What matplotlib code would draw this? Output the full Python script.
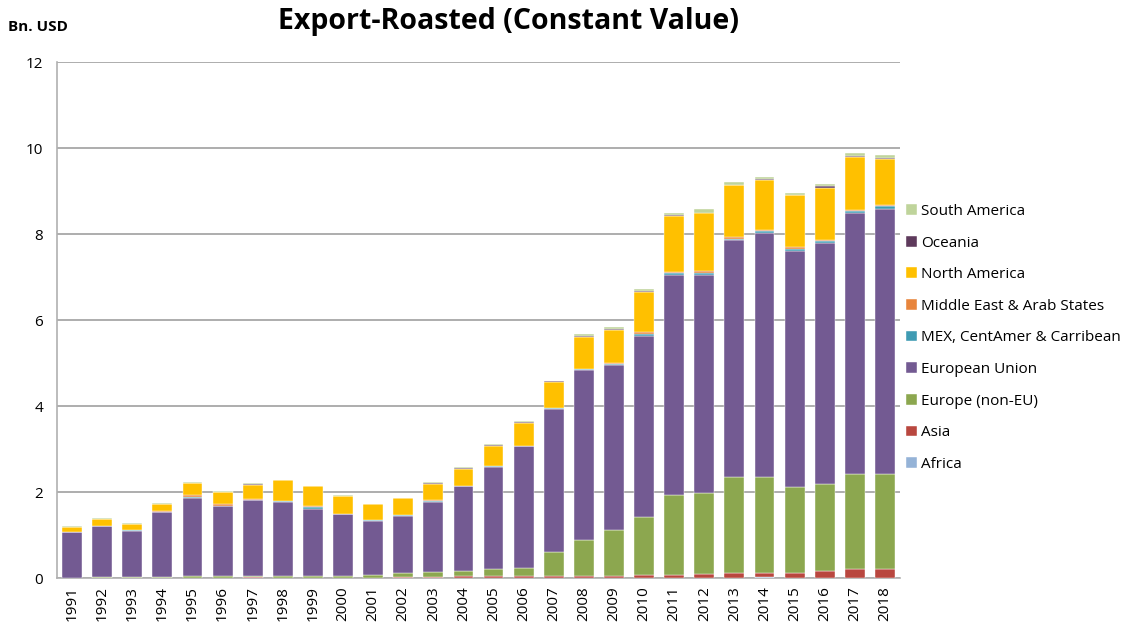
import matplotlib
matplotlib.use("Agg")
import matplotlib.pyplot as plt
import numpy as np

plt.rcParams['font.family'] = ['Open Sans', 'DejaVu Sans']

years = [str(y) for y in range(1991, 2019)]

africa = [0.00,0.00,0.00,0.00,0.00,0.00,0.00,0.00,0.00,0.00,0.00,0.00,0.00,0.00,
          0.00,0.00,0.00,0.00,0.00,0.00,0.00,0.00,0.00,0.03,0.00,0.00,0.00,0.00]
asia = [0.00,0.00,0.00,0.00,0.00,0.00,0.03,0.00,0.00,0.00,0.00,0.02,0.03,0.04,
        0.05,0.05,0.05,0.05,0.05,0.07,0.07,0.09,0.11,0.08,0.11,0.16,0.20,0.20]
europe_non_eu = [0.01,0.03,0.03,0.03,0.05,0.05,0.01,0.05,0.05,0.05,0.08,0.09,0.10,0.12,
                 0.15,0.19,0.55,0.83,1.07,1.36,1.87,1.89,2.24,2.24,2.01,2.03,2.21,2.23]
eu = [1.05,1.17,1.07,1.51,1.82,1.63,1.78,1.71,1.56,1.43,1.24,1.34,1.64,1.97,
      2.38,2.82,3.34,3.95,3.84,4.19,5.11,5.06,5.50,5.68,5.48,5.60,6.07,6.15]
mex_cam = [0.02,0.02,0.02,0.00,0.01,0.00,0.00,0.03,0.05,0.02,0.02,0.02,0.02,0.00,
           0.02,0.02,0.02,0.03,0.02,0.06,0.05,0.05,0.04,0.04,0.06,0.05,0.05,0.06]
mideast = [0.00,0.00,0.00,0.01,0.04,0.04,0.02,0.00,0.01,0.00,0.00,0.00,0.02,0.02,
           0.01,0.00,0.00,0.01,0.01,0.04,0.02,0.04,0.03,0.03,0.04,0.03,0.03,0.04]
north_america = [0.11,0.15,0.13,0.18,0.28,0.27,0.33,0.48,0.46,0.41,0.38,0.38,0.37,0.39,
                 0.47,0.53,0.60,0.74,0.78,0.94,1.30,1.37,1.23,1.15,1.20,1.21,1.22,1.06]
oceania = [0.00,0.00,0.01,0.00,0.01,0.01,0.02,0.00,0.00,0.00,0.00,0.00,0.03,0.02,
           0.02,0.02,0.02,0.01,0.02,0.02,0.02,0.00,0.00,0.03,0.00,0.03,0.04,0.03]
south_america = [0.01,0.02,0.01,0.01,0.02,0.02,0.01,0.01,0.01,0.01,0.01,0.02,0.02,0.01,
                 0.01,0.02,0.01,0.05,0.05,0.04,0.05,0.08,0.07,0.05,0.06,0.06,0.06,0.06]

series = [
    ("Africa", africa, "#95B3D7"),
    ("Asia", asia, "#B9473F"),
    ("Europe (non-EU)", europe_non_eu, "#8CA74F"),
    ("European Union", eu, "#735A92"),
    ("MEX, CentAmer & Carribean", mex_cam, "#3F9BB3"),
    ("Middle East & Arab States", mideast, "#E8853C"),
    ("North America", north_america, "#FFC000"),
    ("Oceania", oceania, "#5E3A5C"),
    ("South America", south_america, "#BFD49B"),
]

fig = plt.figure(figsize=(11.46, 6.25), dpi=100)
ax = fig.add_axes([57/1146, 1-578/625, (900-57)/1146, (578-62)/625])

x = np.arange(len(years))
bottom = np.zeros(len(years))
handles = []
for name, vals, col in series:
    v = np.array(vals)
    h = ax.bar(x, v, bottom=bottom, width=0.66, color=col, edgecolor='white',
               linewidth=0.3, label=name, zorder=3)
    handles.append(h)
    bottom += v

ax.set_xlim(-0.5, len(years) - 0.5)
ax.set_ylim(0, 12)
ax.set_yticks(range(0, 13, 2))
ax.set_xticks(x)
ax.set_xticklabels(years, rotation=90, fontsize=11)
ax.tick_params(axis='y', labelsize=11, length=0, pad=10)
ax.tick_params(axis='x', length=0, pad=6)
ax.grid(axis='y', color='#A0A0A0', linewidth=1.2, zorder=0)
for s in ['top', 'right']:
    ax.spines[s].set_visible(False)
ax.spines['left'].set_color('#B0B0B0')
ax.spines['bottom'].set_color('#B0B0B0')
ax.spines['left'].set_linewidth(1.2)
ax.spines['bottom'].set_linewidth(1.2)

fig.text(508/1146, 1-22/625, "Export-Roasted (Constant Value)", ha='center', va='center',
         fontsize=20.5, fontweight='bold')
fig.text(8/1146, 1-27/625, "Bn. USD", ha='left', va='center', fontsize=11, fontweight='bold')

leg = fig.legend(handles[::-1], [s[0] for s in series][::-1],
                 loc='center left', bbox_to_anchor=(900/1146, 1-338/625),
                 frameon=False, fontsize=11, handlelength=0.7, handleheight=0.7,
                 labelspacing=1.09, handletextpad=0.3, borderaxespad=0)

fig.savefig("out.png", dpi=100)
